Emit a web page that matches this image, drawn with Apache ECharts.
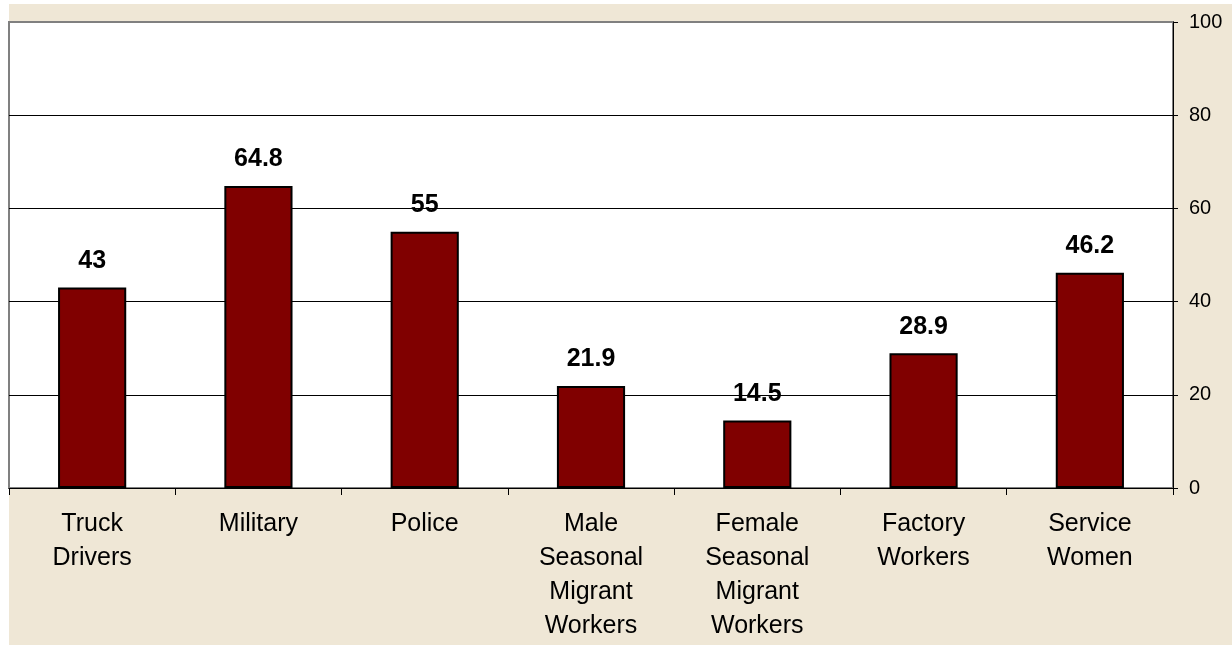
<!DOCTYPE html>
<html>
<head>
<meta charset="utf-8">
<script src="https://cdn.jsdelivr.net/npm/echarts@6/dist/echarts.min.js"></script>
<style>
  html, body { margin: 0; padding: 0; background: #fff; }
  #chart { width: 1232px; height: 646px; }
</style>
</head>
<body>
<div id="chart"></div>
<script>
var categories = ['Truck\nDrivers', 'Military', 'Police', 'Male\nSeasonal\nMigrant\nWorkers',
    'Female\nSeasonal\nMigrant\nWorkers', 'Factory\nWorkers', 'Service\nWomen'];
var values = [43, 64.8, 55, 21.9, 14.5, 28.9, 46.2];

var chart = echarts.init(document.getElementById('chart'));

chart.setOption({
    animation: false,
    backgroundColor: '#fff',
    graphic: [{
        type: 'rect',
        z: -10,
        shape: { x: 9, y: 4, width: 1223, height: 641 },
        style: { fill: '#efe7d6' }
    }],
    grid: {
        left: 9,
        right: 59,
        top: 22,
        bottom: 158,
        show: true,
        backgroundColor: '#fff',
        borderColor: '#808080',
        borderWidth: 2
    },
    xAxis: {
        type: 'category',
        data: categories,
        axisLine: { lineStyle: { color: '#000', width: 1 } },
        axisTick: { show: true, length: 7, lineStyle: { color: '#000' } },
        axisLabel: {
            interval: 0,
            color: '#000',
            fontFamily: 'Liberation Sans, Arial, sans-serif',
            fontSize: 25,
            lineHeight: 34,
            margin: 19
        }
    },
    yAxis: {
        type: 'value',
        position: 'right',
        min: 0,
        max: 100,
        interval: 20,
        axisLine: { show: true, lineStyle: { color: '#000', width: 1 } },
        axisTick: { show: true, length: 5, lineStyle: { color: '#000' } },
        axisLabel: {
            color: '#000',
            fontFamily: 'Liberation Sans, Arial, sans-serif',
            fontSize: 20,
            margin: 16
        },
        splitLine: {
            show: true,
            lineStyle: { color: ['#000', '#000', '#000', '#000', '#000', '#808080'], width: 1 }
        }
    },
    series: [{
        type: 'bar',
        data: values,
        barWidth: '41%',
        itemStyle: {
            color: '#800000',
            borderColor: '#000',
            borderWidth: 2
        },
        label: {
            show: true,
            position: 'top',
            distance: 14,
            color: '#000',
            fontWeight: 'bold',
            fontFamily: 'Liberation Sans, Arial, sans-serif',
            fontSize: 25
        }
    }]
});
</script>
</body>
</html>
